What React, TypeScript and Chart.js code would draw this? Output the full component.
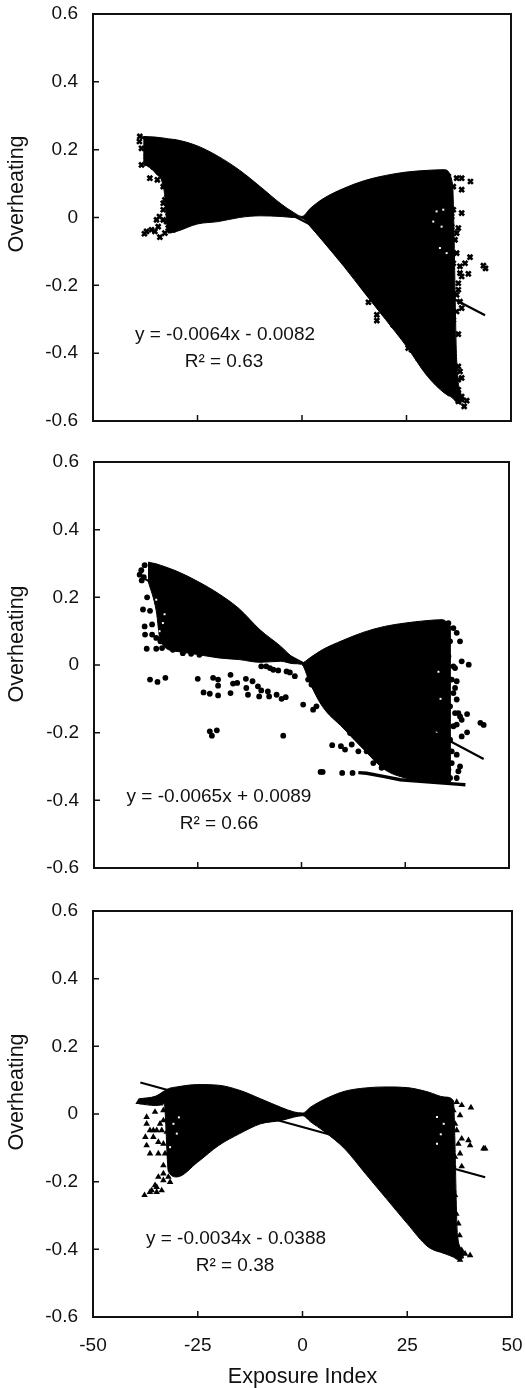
import React, { useEffect, useRef } from "react";
import { Chart, registerables } from "chart.js";

Chart.register(...registerables);

const FONT = "'Liberation Sans', Arial, sans-serif";
const xTicks = ["-50", "-25", "0", "25", "50"];
const yAxisTitle = "Overheating";
const xAxisTitle = "Exposure Index";

// Panel A
const aXs = [-38, -35, -33, -32, -30, -25, -20, -15, -10, -5, -2, 0, 2, 5, 10, 15, 20, 25, 30, 34, 36, 37, 38.2];
const aUpper = [0.239, 0.237, 0.234, 0.232, 0.229, 0.211, 0.18, 0.14, 0.091, 0.04, 0.015, 0.003, 0.027, 0.055, 0.086, 0.109, 0.124, 0.134, 0.139, 0.141, 0.1, -0.42, -0.53];
const aLower = [0.16, 0.13, 0.08, -0.046, -0.041, -0.019, -0.012, 0.0, 0.005, 0.003, 0.0, -0.002, -0.027, -0.07, -0.144, -0.223, -0.301, -0.38, -0.468, -0.517, -0.532, -0.545, -0.552];
const aPoints = [
  [37, 0.116], [38.2, 0.116], [40.3, 0.106], [38.2, 0.082], [35.4, 0.082], [36.2, 0.023], [38.2, 0.013], [35.8, -0.027], [37.4, -0.031],
  [36.6, -0.066], [37, -0.105], [40.2, -0.117], [39, -0.135], [39.8, -0.166], [37.8, -0.164], [43.4, -0.142], [43.9, -0.15], [37.4, -0.194],
  [37, -0.228], [38.2, -0.267], [36.2, -0.302], [37.4, -0.344], [35.4, -0.38], [36, -0.417], [37.8, -0.454], [37.4, -0.478], [38.2, -0.528],
  [39.4, -0.54], [38.8, -0.557], [36.6, -0.503], [15.9, -0.25], [17.9, -0.287], [17.9, -0.304], [25.4, -0.385], [27.8, -0.415], [29.4, -0.439],
  [32.2, -0.478], [-38.9, 0.224], [-38.4, 0.204], [-38.4, 0.155], [-37.2, 0.16], [-36.4, 0.116], [-34.6, 0.111], [-32.4, 0.091], [-32.8, 0.052],
  [-33.2, 0.042], [-34.1, 0.003], [-33.2, -0.007], [-34.4, -0.027], [-37.7, -0.048], [-36, -0.036], [-34, -0.058], [-32.8, -0.046], [-32, -0.031],
  [35, 0.121], [36.2, 0.091], [35, 0.052], [35.8, 0.003], [37, -0.046], [35, -0.085], [36.2, -0.135], [37.8, -0.144], [38.2, -0.174], [37.4, -0.213],
  [37.8, -0.248], [37, -0.277], [35.8, -0.331], [35, -0.365], [35.8, -0.4], [37.4, -0.439], [38.2, -0.473], [37.4, -0.508], [38.2, -0.537], [37.4, -0.542],
  [35.4, -0.518], [34.6, -0.503], [33, -0.488], [30.6, -0.454], [27.4, -0.405], [26.2, -0.39], [21.8, -0.316],
  [-33.2, 0.091], [-32, 0.052], [-33.2, 0.023], [-32, 0.013], [-32.4, -0.012], [-34.8, -0.007], [-35.2, -0.041], [-30.8, -0.036], [-37.2, -0.041],
  [-38.8, 0.239], [-37.2, 0.18], [-35.6, 0.15],
];
const aGaps = [[32.2, 0.018], [33.8, 0.023], [31.4, -0.012], [33.4, -0.027], [34.6, -0.105], [33, -0.09]];
const aTrend = [[-38.5, 0.238], [43.8, -0.288]];

// Panel B
const bXs = [-37, -35, -34, -30, -25, -20, -15, -10, -5, -2, 0, 2, 5, 10, 15, 20, 25, 30, 34, 36];
const bUpper = [0.304, 0.299, 0.295, 0.277, 0.247, 0.211, 0.166, 0.104, 0.055, 0.021, 0.006, 0.021, 0.045, 0.073, 0.097, 0.114, 0.124, 0.131, 0.134, 0.114];
const bLower = [0.25, 0.16, 0.07, 0.04, 0.031, 0.021, 0.016, 0.008, 0.011, 0.004, 0.002, -0.053, -0.122, -0.186, -0.25, -0.309, -0.334, -0.344, -0.349, -0.352];
const bPoints = [
  [-39, 0.267], [-38.2, 0.164], [-37.8, 0.114], [-37.7, 0.09], [-37.3, 0.048], [-35, 0.048], [-33.6, 0.05], [-36.5, -0.043], [-34.7, -0.05],
  [-32.8, -0.038], [-25, -0.041], [-23.6, -0.081], [-22.1, -0.085], [-21.3, -0.038], [-20.1, -0.043], [-20.1, -0.061], [-20.1, -0.09], [-17.1, -0.029],
  [-17.1, -0.083], [-16.5, -0.055], [-15.5, -0.053], [-13.4, -0.041], [-13.3, -0.068], [-12.9, -0.088], [-11.8, -0.048], [-10.5, -0.063], [-10.2, -0.093],
  [-9.7, -0.075], [-8.1, -0.078], [-7.8, -0.093], [-6, -0.088], [-4.8, -0.1], [-3.8, -0.095], [-22.1, -0.196], [-21.6, -0.209], [-20.4, -0.193],
  [-4.4, -0.209], [0.4, -0.117], [2.8, -0.132], [3.6, -0.122], [1.6, -0.043], [2.4, -0.058], [7.4, -0.237], [9.5, -0.24], [10.5, -0.25], [12.1, -0.235],
  [13.7, -0.255], [4.6, -0.316], [5.1, -0.316], [9.8, -0.319], [12.3, -0.319], [17.3, -0.29], [19.3, -0.304], [-3.6, -0.019], [-1.6, -0.033],
  [-8.5, -0.004], [-6.8, -0.014], [37.4, 0.095], [38.2, 0.07], [38.6, 0.011], [40.3, 0.001], [37, -0.009], [37.4, -0.048], [37, -0.068], [37.4, -0.102],
  [37.8, -0.142], [39.9, -0.145], [38.6, -0.162], [37.4, -0.176], [39.9, -0.199], [38.6, -0.211], [43.1, -0.171], [43.9, -0.177], [37.4, -0.265],
  [36.2, -0.29], [38.2, -0.3], [37.8, -0.314], [37.4, -0.334],
  [35.4, 0.124], [36.6, 0.109], [35.8, 0.07], [35.4, 0.026], [36.6, -0.004], [36.2, -0.043], [36.6, -0.083], [35.8, -0.122], [37, -0.142], [38.2, -0.152],
  [36.6, -0.181], [35.8, -0.221], [36.2, -0.255], [35.4, -0.309], [35.8, -0.334],
  [-38.6, 0.28], [-37.8, 0.295], [-38, 0.26], [-38.5, 0.25], [-37.2, 0.2], [-36.5, 0.16], [-36, 0.12], [-36, 0.09], [-35, 0.08], [-34, 0.07],
  [-31, 0.045], [-28.6, 0.035], [-26.6, 0.033], [-24.6, 0.03], [-21.7, 0.033], [-9.7, -0.004], [-7.6, -0.009], [-5.6, -0.016], [-2.8, -0.022],
  [7.6, -0.142], [11.7, -0.201], [15.7, -0.255],
];
const bGaps = [[-35, 0.193], [-33.4, 0.124], [-34.2, 0.1], [-33, 0.15], [33.5, -0.1], [33, -0.02], [32.5, -0.2]];
const bStreak = [[13.7, -0.318], [15.7, -0.32], [19.7, -0.329], [23.8, -0.339], [37.4, -0.352], [39.5, -0.354]];
const bTrend = [[-38, 0.256], [43.9, -0.278]];

// Panel C
const cXs = [-39, -35, -33, -32, -30, -25, -20, -15, -10, -5, -2, 0, 2, 5, 10, 15, 20, 25, 30, 34, 36, 37, 38.5];
const cUpper = [0.045, 0.053, 0.068, 0.075, 0.08, 0.087, 0.085, 0.07, 0.045, 0.019, 0.006, 0.003, 0.021, 0.042, 0.067, 0.077, 0.08, 0.078, 0.065, 0.05, 0.04, -0.36, -0.41];
const cLower = [0.03, 0.025, 0.03, -0.17, -0.186, -0.142, -0.093, -0.058, -0.029, -0.019, -0.009, -0.005, -0.024, -0.05, -0.102, -0.176, -0.25, -0.324, -0.393, -0.413, -0.423, -0.43, -0.425];
const cPoints = [
  [-37.2, -0.009], [-37.2, -0.029], [-37.5, -0.068], [-37.2, -0.093], [-36.4, -0.117], [-34.4, -0.117], [-35.2, 0.006], [-34, 0.031], [-35.6, -0.048],
  [-34.4, -0.083], [-33.2, -0.152], [-34.4, -0.186], [-33.2, -0.196], [-34.8, -0.216], [-36, -0.226], [-33.6, -0.226], [-37.7, -0.24], [-32.4, -0.053],
  [-33.2, -0.019], [-39.1, 0.035], [36.8, 0.035], [38, 0.026], [40.2, 0.019], [37.6, -0.004], [36.4, -0.029], [38, -0.073], [39.6, -0.078], [40, -0.093],
  [37.6, -0.117], [38, -0.155], [43.2, -0.102], [43.6, -0.102], [35.2, -0.206], [36.4, -0.24], [36.7, -0.295], [37.2, -0.324], [37.5, -0.359], [38, -0.403],
  [40, -0.418], [37.6, -0.431], [34.4, -0.408], [36, -0.152],
  [34, 0.031], [35.2, 0.016], [34.4, -0.009], [36, 0.011], [34.8, -0.038], [36.8, -0.048], [35.2, -0.078], [37.2, -0.088], [34.8, -0.117], [36.4, -0.127],
  [34.4, -0.186], [36, -0.226], [35.6, -0.265], [36.2, -0.324], [36.4, -0.364], [37.2, -0.393], [38.8, -0.413], [37.2, -0.418], [32.9, -0.398],
  [-33.2, -0.088], [-32.8, -0.117], [-32, -0.186], [-31.6, -0.201], [-33.2, -0.176], [-35.2, -0.211], [-34.8, -0.231], [-36.4, -0.231], [-34, -0.029],
  [-34.8, -0.048], [-36.4, -0.048], [-32, 0.021], [-33.2, 0.011], [-33.6, -0.048], [-35.6, -0.068],
];
const cGaps = [[32.1, -0.009], [33.7, -0.029], [32.1, -0.088], [33, -0.06], [-30.8, -0.029], [-31.6, -0.098], [-30, -0.058], [-29.5, -0.01]];
const cTrend = [[-38.7, 0.093], [43.6, -0.187]];

const xy = (pairs: number[][]) => pairs.map(([x, y]) => ({ x, y }));
const zipXY = (xs: number[], ys: number[]) => xs.map((x, i) => ({ x, y: ys[i] }));

const panels = [
  {
    top: 0, height: 450, box: [93, 14, 511, 421], xs: aXs, upper: aUpper, lower: aLower, points: aPoints, gaps: aGaps, trend: aTrend, streak: null,
    marker: "crossRot", radius: 3.4, markerBorder: 2.6, showX: false,
    eq: ["y = -0.0064x - 0.0082", "R\u00B2 = 0.63"], eqPos: [225, 335, 224, 362], yTitleY: 194,
  },
  {
    top: 450, height: 440, box: [94, 12, 509, 418], xs: bXs, upper: bUpper, lower: bLower, points: bPoints, gaps: bGaps, trend: bTrend, streak: bStreak,
    marker: "circle", radius: 2.9, markerBorder: 0, showX: false,
    eq: ["y = -0.0065x + 0.0089", "R\u00B2 = 0.66"], eqPos: [219, 347, 219, 374], yTitleY: 194,
  },
  {
    top: 890, height: 498, box: [93, 21, 512, 427], xs: cXs, upper: cUpper, lower: cLower, points: cPoints, gaps: cGaps, trend: cTrend, streak: null,
    marker: "triangle", radius: 3.8, markerBorder: 0, showX: true,
    eq: ["y = -0.0034x - 0.0388", "R\u00B2 = 0.38"], eqPos: [236, 349, 235, 376], yTitleY: 202,
  },
];

const decor = {
  id: "decor",
  afterDatasetsDraw(chart: any, _a: any, opts: any) {
    const { ctx, chartArea: a, scales } = chart;
    ctx.save();
    ctx.strokeStyle = "#111";
    ctx.lineWidth = 1.5;
    ctx.beginPath();
    scales.x.ticks.forEach((_t: any, i: number) => {
      const p = scales.x.getPixelForTick(i);
      ctx.moveTo(p, a.bottom);
      ctx.lineTo(p, a.bottom - 6);
    });
    scales.y.ticks.forEach((_t: any, i: number) => {
      const p = scales.y.getPixelForTick(i);
      ctx.moveTo(a.left, p);
      ctx.lineTo(a.left + 6, p);
    });
    ctx.stroke();
    ctx.lineWidth = 2;
    ctx.strokeRect(a.left, a.top, a.right - a.left, a.bottom - a.top);

    ctx.fillStyle = "#111";
    ctx.font = `19px ${FONT}`;
    ctx.textAlign = "center";
    ctx.textBaseline = "middle";
    const e = opts.eqPos;
    ctx.fillText(opts.eq[0], e[0], e[1]);
    ctx.fillText(opts.eq[1], e[2], e[3]);

    ctx.font = `21.5px ${FONT}`;
    ctx.translate(17, opts.yTitleY);
    ctx.rotate(-Math.PI / 2);
    ctx.fillText(yAxisTitle, 0, 0);
    ctx.restore();
  },
};

function Panel({ p }: { p: (typeof panels)[number] }) {
  const ref = useRef<HTMLCanvasElement>(null);
  useEffect(() => {
    const [l, t, r, b] = p.box;
    const boundary = { type: "scatter", showLine: true, pointRadius: 0, borderColor: "#000", borderWidth: 1, backgroundColor: "#000", cubicInterpolationMode: "monotone" };
    const datasets: any[] = [
      { ...boundary, label: "Trend", data: xy(p.trend), borderWidth: 2.2, cubicInterpolationMode: "default", order: 0 },
      { type: "scatter", label: "Gaps", data: xy(p.gaps), pointStyle: "rect", pointRadius: 1.4, pointBorderWidth: 0, pointBackgroundColor: "#fff", showLine: false, order: 1 },
      { type: "scatter", label: "Points", data: xy(p.points), pointStyle: p.marker, pointRadius: p.radius, pointBorderWidth: p.markerBorder, pointBackgroundColor: "#000", pointBorderColor: "#000", showLine: false, order: 2 },
      { ...boundary, label: "Upper", data: zipXY(p.xs, p.upper), fill: "+1", order: 3 },
      { ...boundary, label: "Lower", data: zipXY(p.xs, p.lower), order: 4 },
    ];
    if (p.streak) datasets.push({ ...boundary, label: "Streak", data: xy(p.streak), borderWidth: 3.4, cubicInterpolationMode: "default", order: 5 });
    const chart = new Chart(ref.current!, {
      type: "scatter",
      data: { datasets },
      plugins: [decor],
      options: {
        animation: false,
        responsive: false,
        layout: { padding: { top: t, right: 525 - r, left: 0, bottom: 0 } },
        plugins: { legend: { display: false }, tooltip: { enabled: false }, decor: { eq: p.eq, eqPos: p.eqPos, yTitleY: p.yTitleY } },
        scales: {
          x: {
            type: "linear", min: -50, max: 50,
            grid: { display: false, drawTicks: false },
            border: { display: false },
            ticks: { display: p.showX, stepSize: 25, padding: 17, maxRotation: 0, color: "#111", font: { family: FONT, size: 19 }, callback: (_v: any, i: number) => xTicks[i] },
            title: { display: p.showX, text: xAxisTitle, color: "#111", font: { family: FONT, size: 21.5, lineHeight: 1 }, padding: 0 },
            afterFit: (s: any) => { s.height = p.height - b; s.paddingLeft = 0; s.paddingRight = 0; s.paddingTop = 0; s.paddingBottom = 0; },
          },
          y: {
            type: "linear", min: -0.6, max: 0.6,
            grid: { display: false, drawTicks: false },
            border: { display: false },
            ticks: { stepSize: 0.2, padding: 15, color: "#111", font: { family: FONT, size: 19 }, callback: (v: any) => String(Math.round(Number(v) * 10) / 10) },
            afterFit: (s: any) => { s.width = l; s.paddingLeft = 0; s.paddingRight = 0; s.paddingTop = 0; s.paddingBottom = 0; },
          },
        },
      },
    } as any);
    return () => chart.destroy();
  }, [p]);
  return <canvas ref={ref} width={525} height={p.height} style={{ position: "absolute", left: 0, top: p.top, width: 525, height: p.height, display: "block" }} />;
}

export default function App() {
  return (
    <div style={{ position: "absolute", left: 0, top: 0, width: 525, height: 1388, overflow: "hidden", background: "#fff" }}>
      {panels.map((p) => <Panel key={p.top} p={p} />)}
    </div>
  );
}
